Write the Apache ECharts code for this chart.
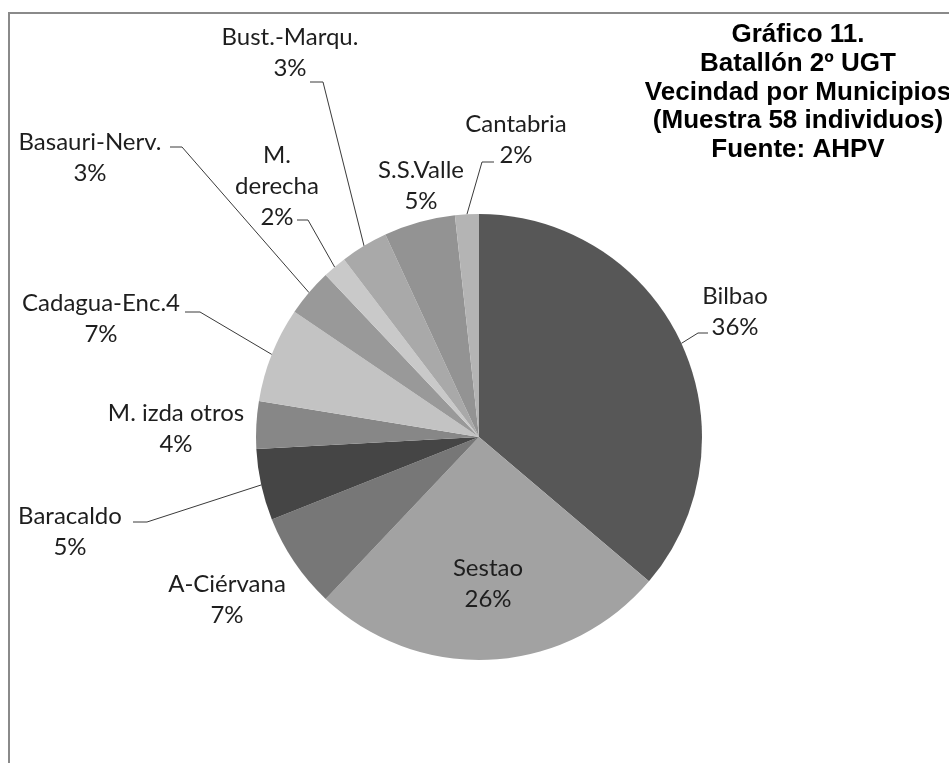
<!DOCTYPE html>
<html>
<head>
<meta charset="utf-8">
<script src="https://cdn.jsdelivr.net/npm/echarts@6/dist/echarts.min.js"></script>
<style>
  html, body { margin: 0; padding: 0; background: #ffffff; }
  #chart { width: 949px; height: 763px; }
</style>
</head>
<body>
<div id="chart"></div>
<script>
// ---- Data ----
const categories = ['Bilbao', 'Sestao', 'A-Ciérvana', 'Baracaldo', 'M. izda otros', 'Cadagua-Enc.4', 'Basauri-Nerv.', 'M. derecha', 'Bust.-Marqu.', 'S.S.Valle', 'Cantabria'];
const individuals = [21, 15, 4, 3, 2, 4, 2, 1, 2, 3, 1];
const percentLabels = ['36%', '26%', '7%', '5%', '4%', '7%', '3%', '2%', '3%', '5%', '2%'];
const titleLines = ['Gráfico 11.', 'Batallón 2º UGT', 'Vecindad por Municipios', '(Muestra 58 individuos)', 'Fuente: AHPV'];

// ---- Styles ----
const sliceColors = ['#575757', '#a2a2a2', '#777777', '#454545', '#878787', '#c3c3c3', '#999999', '#c9c9c9', '#a9a9a9', '#939393', '#b4b4b4'];
const displayNames = { 'M. derecha': 'M.\nderecha' };

// ---- Label layout (text block centre, leader elbow & end) ----
const labelPlacement = [
  { x: 735, y: 312, line: [[698, 333], [708, 333]] },
  { x: 488, y: 584, line: null },
  { x: 227, y: 600, line: null },
  { x: 70,  y: 532, line: [[147, 522], [133, 522]] },
  { x: 176, y: 429, line: null },
  { x: 101, y: 319, line: [[200, 312], [185, 312]] },
  { x: 90,  y: 158, line: [[182, 147], [170, 147]] },
  { x: 277, y: 186, line: [[308, 220], [297, 220]] },
  { x: 290, y: 53,  line: [[323, 82], [310, 82]] },
  { x: 421, y: 186, line: null },
  { x: 516, y: 140, line: [[482, 162], [494, 162]] }
];

const pieData = categories.map((name, i) => ({
  name: name,
  value: individuals[i],
  itemStyle: { color: sliceColors[i] },
  label: { position: i === 1 ? 'inside' : 'outside' },
  labelLine: { show: !!labelPlacement[i].line }
}));

const chart = echarts.init(document.getElementById('chart'), null, { renderer: 'canvas' });

chart.setOption({
  backgroundColor: '#ffffff',
  animation: false,
  title: {
    text: titleLines.join('\n'),
    left: 798,
    top: 21,
    textAlign: 'center',
    padding: 0,
    textStyle: {
      fontFamily: '"Liberation Sans", Arial, sans-serif',
      fontWeight: 'bold',
      fontSize: 26,
      lineHeight: 28.6,
      color: '#000000',
      align: 'center'
    }
  },
  graphic: [
    {
      type: 'rect',
      z: -1,
      shape: { x: 9, y: 13, width: 1200, height: 1200 },
      style: { fill: 'none', stroke: '#8a8a8a', lineWidth: 2 }
    }
  ],
  series: [
    {
      type: 'pie',
      center: [479, 437],
      radius: 223,
      startAngle: 90,
      clockwise: true,
      avoidLabelOverlap: false,
      data: pieData,
      itemStyle: { borderWidth: 0 },
      label: {
        show: true,
        fontFamily: 'Lato, "Open Sans", sans-serif',
        fontSize: 24,
        lineHeight: 31,
        color: '#1e1e1e',
        align: 'center',
        formatter: function (p) {
          const nm = displayNames[p.name] || p.name;
          return nm + '\n' + percentLabels[p.dataIndex];
        }
      },
      labelLine: {
        show: true,
        length: 20,
        length2: 10,
        smooth: false,
        lineStyle: { color: '#3a3a3a', width: 1 }
      },
      emphasis: { disabled: true },
      labelLayout: function (params) {
        const cfg = labelPlacement[params.dataIndex];
        const out = { x: cfg.x, y: cfg.y, align: 'center', verticalAlign: 'middle' };
        if (cfg.line && params.labelLinePoints) {
          out.labelLinePoints = [params.labelLinePoints[0], cfg.line[0], cfg.line[1]];
        }
        return out;
      }
    }
  ]
});
</script>
</body>
</html>
